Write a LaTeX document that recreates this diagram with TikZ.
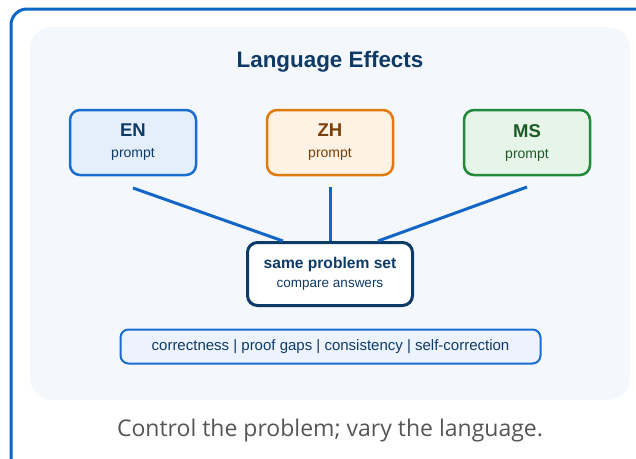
\documentclass[tikz,border=0pt]{standalone}
\usepackage{fontspec}
\setmainfont{Liberation Sans}
\newfontfamily\capfont{Open Sans}
\definecolor{frameblue}{HTML}{0A66C8}
\definecolor{panelbg}{HTML}{F4F8FD}
\definecolor{navy}{HTML}{0E3A68}
\definecolor{enline}{HTML}{1A6DD0}
\definecolor{enfill}{HTML}{E5EFFC}
\definecolor{zhline}{HTML}{E07A0C}
\definecolor{zhfill}{HTML}{FEF2E4}
\definecolor{zhtext}{HTML}{7A3F08}
\definecolor{msline}{HTML}{22893A}
\definecolor{msfill}{HTML}{E6F5E8}
\definecolor{mstext}{HTML}{1C5A26}
\definecolor{linkblue}{HTML}{1366C8}
\definecolor{pillfill}{HTML}{EDF3FC}
\definecolor{capgray}{HTML}{555555}
\tikzset{
  langbox/.style={draw, line width=2.5pt, rounded corners=10pt,
    minimum width=126pt, minimum height=65pt, align=center, inner sep=0pt},
  link/.style={draw=linkblue, line width=3pt},
}
\newcommand{\langlabel}[2]{{\bfseries\fontsize{18.5}{20}\selectfont\color{#1}#2}\\[9pt]{\fontsize{14}{15}\selectfont\color{#1}prompt}}
\begin{document}
\begin{tikzpicture}[x=1pt,y=-1pt]
  \useasboundingbox (0,0) rectangle (636,458);
  % outer frame, running past the right and bottom edges
  \draw[frameblue, line width=3pt, rounded corners=16pt] (11,9) rectangle (660,480);
  % inner panel
  \fill[panelbg, rounded corners=22pt] (30,27) rectangle (630,400);
  % title
  \node[font=\bfseries\fontsize{22.4}{26}\selectfont, text=navy] (title) at (330,62) {Language Effects};
  % language boxes
  \node[langbox, draw=enline, fill=enfill] (en) at (133,142.5) {\langlabel{navy}{EN}};
  \node[langbox, draw=zhline, fill=zhfill] (zh) at (330,142.5) {\langlabel{zhtext}{ZH}};
  \node[langbox, draw=msline, fill=msfill] (ms) at (527,142.5) {\langlabel{mstext}{MS}};
  % shared problem set
  \node[draw=navy, fill=white, line width=3pt, rounded corners=10pt,
        minimum width=165pt, minimum height=63pt, align=center, inner sep=0pt] (set) at (330,274)
    {{\bfseries\fontsize{15.6}{18}\selectfont\color{navy}same problem set}\\[7pt]{\fontsize{13.5}{16}\selectfont\color{navy}compare answers}};
  % connectors
  \coordinate (enS) at (133,188);
  \coordinate (zhS) at (330,187);
  \coordinate (msS) at (527,187);
  \coordinate (setL) at (283,241);
  \coordinate (setM) at (330,241);
  \coordinate (setR) at (378,241);
  \draw[link] (enS) -- (setL);
  \draw[link] (zhS) -- (setM);
  \draw[link] (msS) -- (setR);
  % evaluation criteria
  \node[draw=enline, fill=pillfill, line width=2pt, rounded corners=8pt,
        minimum width=420pt, minimum height=34pt, inner sep=0pt,
        font=\fontsize{15}{18}\selectfont, text=navy] (crit) at (330.5,346.5)
    {\raisebox{-1pt}{correctness | proof gaps | consistency | self-correction}};
  % caption
  \node[font=\capfont\fontsize{23}{27}\selectfont, text=capgray] (cap) at (330,431)
    {Control the problem; vary the language.};
\end{tikzpicture}
\end{document}
